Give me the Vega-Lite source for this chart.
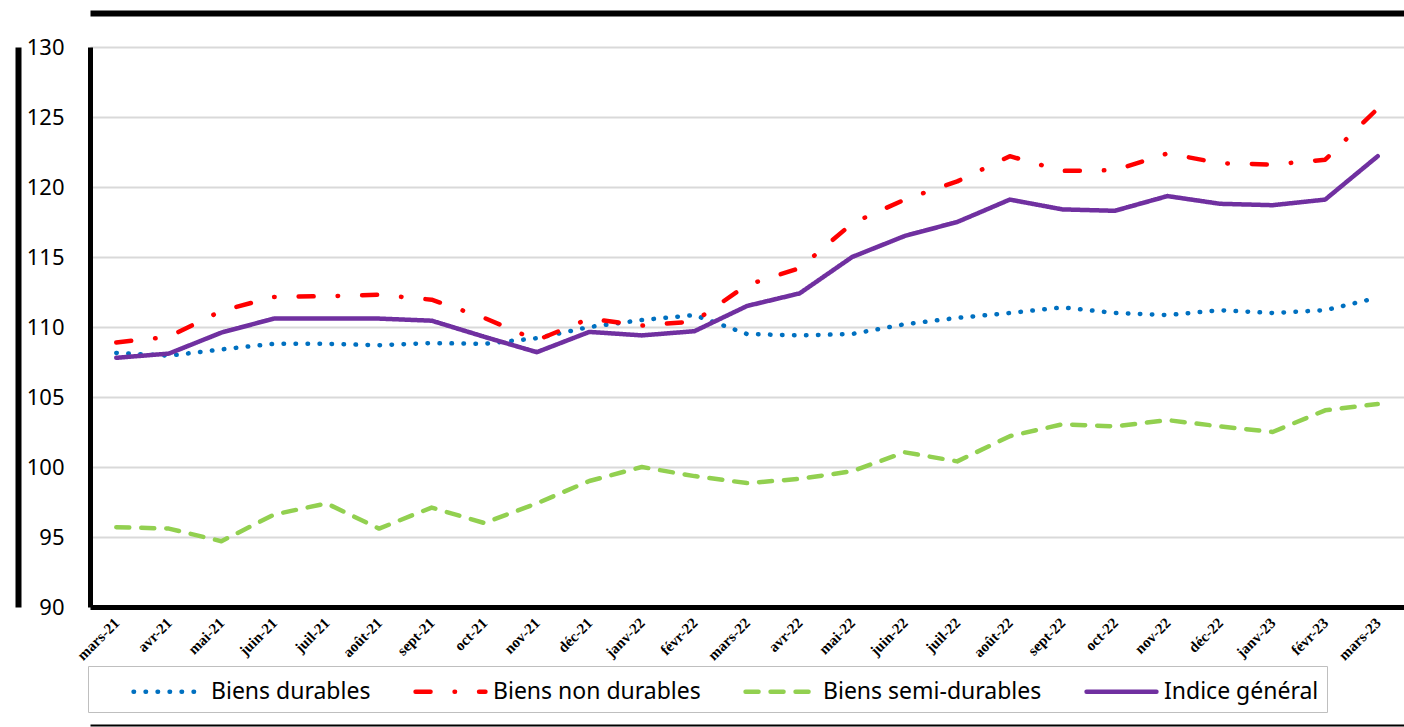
{
  "$schema": "https://vega.github.io/schema/vega-lite/v6.json",
  "width": 1314,
  "height": 560,
  "autosize": {"type": "none"},
  "padding": {"left": 90, "top": 47, "right": 0, "bottom": 120},
  "background": "white",
  "config": {"view": {"stroke": null}, "font": "Noto Sans"},
  "data": {
    "values": [
      {"mois": "mars-21", "Biens durables": 108.15, "Biens non durables": 108.9, "Biens semi-durables": 95.7, "Indice général": 107.8},
      {"mois": "avr-21", "Biens durables": 107.95, "Biens non durables": 109.3, "Biens semi-durables": 95.6, "Indice général": 108.1},
      {"mois": "mai-21", "Biens durables": 108.4, "Biens non durables": 111.15, "Biens semi-durables": 94.7, "Indice général": 109.6},
      {"mois": "juin-21", "Biens durables": 108.8, "Biens non durables": 112.15, "Biens semi-durables": 96.6, "Indice général": 110.6},
      {"mois": "juil-21", "Biens durables": 108.8, "Biens non durables": 112.2, "Biens semi-durables": 97.4, "Indice général": 110.6},
      {"mois": "août-21", "Biens durables": 108.7, "Biens non durables": 112.3, "Biens semi-durables": 95.6, "Indice général": 110.6},
      {"mois": "sept-21", "Biens durables": 108.85, "Biens non durables": 111.95, "Biens semi-durables": 97.1, "Indice général": 110.45},
      {"mois": "oct-21", "Biens durables": 108.8, "Biens non durables": 110.65, "Biens semi-durables": 96.0, "Indice général": 109.3},
      {"mois": "nov-21", "Biens durables": 109.2, "Biens non durables": 109.05, "Biens semi-durables": 97.4, "Indice général": 108.2},
      {"mois": "déc-21", "Biens durables": 110.0, "Biens non durables": 110.6, "Biens semi-durables": 99.0, "Indice général": 109.65},
      {"mois": "janv-22", "Biens durables": 110.5, "Biens non durables": 110.1, "Biens semi-durables": 100.0, "Indice général": 109.4},
      {"mois": "févr-22", "Biens durables": 110.85, "Biens non durables": 110.4, "Biens semi-durables": 99.35, "Indice général": 109.7},
      {"mois": "mars-22", "Biens durables": 109.5, "Biens non durables": 113.0, "Biens semi-durables": 98.85, "Indice général": 111.5},
      {"mois": "avr-22", "Biens durables": 109.4, "Biens non durables": 114.2, "Biens semi-durables": 99.15, "Indice général": 112.4},
      {"mois": "mai-22", "Biens durables": 109.5, "Biens non durables": 117.4, "Biens semi-durables": 99.7, "Indice général": 115.0},
      {"mois": "juin-22", "Biens durables": 110.2, "Biens non durables": 119.1, "Biens semi-durables": 101.05, "Indice général": 116.5},
      {"mois": "juil-22", "Biens durables": 110.65, "Biens non durables": 120.4, "Biens semi-durables": 100.4, "Indice général": 117.5},
      {"mois": "août-22", "Biens durables": 111.0, "Biens non durables": 122.2, "Biens semi-durables": 102.2, "Indice général": 119.1},
      {"mois": "sept-22", "Biens durables": 111.4, "Biens non durables": 121.15, "Biens semi-durables": 103.05, "Indice général": 118.4},
      {"mois": "oct-22", "Biens durables": 111.0, "Biens non durables": 121.2, "Biens semi-durables": 102.9, "Indice général": 118.3},
      {"mois": "nov-22", "Biens durables": 110.85, "Biens non durables": 122.4, "Biens semi-durables": 103.35, "Indice général": 119.35},
      {"mois": "déc-22", "Biens durables": 111.2, "Biens non durables": 121.7, "Biens semi-durables": 102.9, "Indice général": 118.8},
      {"mois": "janv-23", "Biens durables": 111.0, "Biens non durables": 121.6, "Biens semi-durables": 102.5, "Indice général": 118.7},
      {"mois": "févr-23", "Biens durables": 111.2, "Biens non durables": 121.95, "Biens semi-durables": 104.05, "Indice général": 119.1},
      {"mois": "mars-23", "Biens durables": 112.1, "Biens non durables": 125.6, "Biens semi-durables": 104.5, "Indice général": 122.2}
    ]
  },
  "transform": [
    {"fold": ["Biens durables", "Biens non durables", "Biens semi-durables", "Indice général"], "as": ["serie", "valeur"]}
  ],
  "layer": [
    {
      "mark": {"type": "line", "strokeCap": "round", "strokeJoin": "round", "strokeWidth": 4.5},
      "encoding": {
        "x": {
          "field": "mois", "type": "ordinal", "sort": null,
          "scale": {"type": "point", "padding": 0.5},
          "axis": {
            "title": null, "ticks": false, "grid": false,
            "domain": true, "domainColor": "black", "domainWidth": 5,
            "labelAngle": -45, "labelAlign": "right", "labelBaseline": "middle",
            "labelFont": "Liberation Serif", "labelFontWeight": "bold", "labelFontSize": 15,
            "labelColor": "black", "labelPadding": 13
          }
        },
        "y": {
          "field": "valeur", "type": "quantitative",
          "scale": {"domain": [90, 130], "nice": false, "zero": false},
          "axis": {
            "title": null, "ticks": false, "values": [90, 95, 100, 105, 110, 115, 120, 125, 130],
            "grid": true, "gridColor": "#d9d9d9", "gridWidth": 2,
            "domain": true, "domainColor": "black", "domainWidth": 5,
            "labelFont": "Noto Sans", "labelFontSize": 22, "labelColor": "black", "labelPadding": 26
          }
        },
        "color": {
          "field": "serie", "type": "nominal",
          "scale": {
            "domain": ["Biens durables", "Biens non durables", "Biens semi-durables", "Indice général"],
            "range": ["#0070C0", "#FF0000", "#92D050", "#7030A0"]
          },
          "legend": {
            "title": "\u2003", "titleOrient": "left", "titleFontSize": 22, "titlePadding": 55,
            "orient": "none", "legendX": -2, "legendY": 619,
            "direction": "horizontal", "columns": 4, "columnPadding": 35,
            "symbolType": "M-2.33,0H2.33", "symbolSize": 900, "symbolStrokeWidth": 4.5,
            "labelFont": "Noto Sans", "labelFontSize": 23, "labelColor": "black", "labelOffset": 25, "labelLimit": 400,
            "padding": 8, "strokeColor": "#bfbfbf", "fillColor": "white",
            "encode": {"symbols": {"update": {"strokeCap": {"value": "round"}}}}
          }
        },
        "strokeDash": {
          "field": "serie", "type": "nominal",
          "scale": {
            "domain": ["Biens durables", "Biens non durables", "Biens semi-durables", "Indice général"],
            "range": [[0.5, 11.5], [15, 24, 0.5, 24], [13, 12], [1, 0]]
          },
          "legend": {
            "title": "\u2003", "titleOrient": "left", "titleFontSize": 22, "titlePadding": 55,
            "orient": "none", "legendX": -2, "legendY": 619,
            "direction": "horizontal", "columns": 4, "columnPadding": 35,
            "symbolType": "M-2.33,0H2.33", "symbolSize": 900, "symbolStrokeWidth": 4.5,
            "labelFont": "Noto Sans", "labelFontSize": 23, "labelColor": "black", "labelOffset": 25, "labelLimit": 400,
            "padding": 8, "strokeColor": "#bfbfbf", "fillColor": "white",
            "encode": {"symbols": {"update": {"strokeCap": {"value": "round"}}}}
          }
        }
      }
    },
    {
      "mark": {"type": "point", "opacity": 0},
      "encoding": {
        "x": {
          "field": "mois", "type": "ordinal", "sort": null,
          "axis": {"orient": "top", "offset": 34, "title": null, "labels": false, "ticks": false, "grid": false, "domain": true, "domainColor": "black", "domainWidth": 6}
        },
        "y": {
          "field": "valeur", "type": "quantitative",
          "axis": {"orient": "left", "offset": 72, "title": null, "labels": false, "ticks": false, "grid": false, "domain": true, "domainColor": "black", "domainWidth": 6}
        }
      }
    },
    {
      "mark": {"type": "point", "opacity": 0},
      "encoding": {
        "x": {
          "field": "mois", "type": "ordinal", "sort": null,
          "axis": {"orient": "bottom", "offset": 118, "title": null, "labels": false, "ticks": false, "grid": false, "domain": true, "domainColor": "black", "domainWidth": 2}
        },
        "y": {
          "field": "valeur", "type": "quantitative",
          "axis": null
        }
      }
    }
  ],
  "resolve": {"axis": {"x": "independent", "y": "independent"}}
}
